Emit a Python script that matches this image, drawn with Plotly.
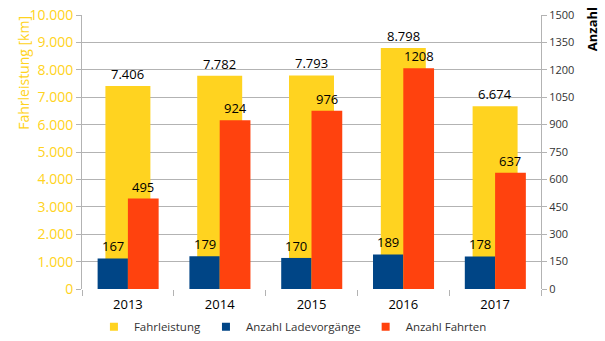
import plotly.graph_objects as go

years = ["2013", "2014", "2015", "2016", "2017"]
fahrleistung = [7406, 7782, 7793, 8798, 6674]
ladevorgaenge = [167, 179, 170, 189, 178]
fahrten = [495, 924, 976, 1208, 637]

YELLOW = "#FFD320"
BLUE = "#004586"
RED = "#FF420E"
GRID = "#b3b3b3"
FONT = "Open Sans"

xs = list(range(len(years)))

fig = go.Figure()
fig.add_trace(go.Bar(x=xs, y=fahrleistung, width=0.49, offset=-0.245,
                     marker=dict(color=YELLOW, line=dict(width=0)),
                     yaxis="y", showlegend=False, hoverinfo="skip"))
fig.add_trace(go.Bar(x=xs, y=ladevorgaenge, width=0.33, offset=-0.33,
                     marker=dict(color=BLUE, line=dict(width=0)),
                     yaxis="y2", showlegend=False, hoverinfo="skip"))
fig.add_trace(go.Bar(x=xs, y=fahrten, width=0.335, offset=0.0,
                     marker=dict(color=RED, line=dict(width=0)),
                     yaxis="y2", showlegend=False, hoverinfo="skip"))

# legend entries
for name, col in [("Fahrleistung", YELLOW), ("Anzahl Ladevorgänge", BLUE), ("Anzahl Fahrten", RED)]:
    fig.add_trace(go.Scatter(x=[None], y=[None], mode="markers", name=name,
                             marker=dict(symbol="square", size=8, color=col)))

def fmt_de(v):
    return f"{v:,}".replace(",", ".")

LABEL_FONT = dict(family=FONT, size=13, color="#000")
ann = []
for i, v in enumerate(fahrleistung):
    ann.append(dict(x=xs[i], y=v, xref="x", yref="y", text=fmt_de(v), showarrow=False,
                    yanchor="bottom", yshift=1, font=LABEL_FONT))
for i, v in enumerate(ladevorgaenge):
    ann.append(dict(x=xs[i] - 0.165, y=v, xref="x", yref="y2", text=str(v), showarrow=False,
                    yanchor="bottom", yshift=1, font=LABEL_FONT))
for i, v in enumerate(fahrten):
    ann.append(dict(x=xs[i] + 0.1675, y=v, xref="x", yref="y2", text=str(v), showarrow=False,
                    yanchor="bottom", yshift=1, font=LABEL_FONT))

ann.append(dict(text="Fahrleistung [km]", xref="paper", yref="paper", x=-0.128, y=0.79,
                xanchor="center", yanchor="middle", textangle=-90, showarrow=False,
                font=dict(family=FONT, size=14, color=YELLOW)))
ann.append(dict(text="<b>Anzahl</b>", xref="paper", yref="paper", x=1.11, y=0.95,
                xanchor="center", yanchor="middle", textangle=-90, showarrow=False,
                font=dict(family=FONT, size=13, color="#000")))

fig.update_layout(
    width=605, height=341,
    margin=dict(l=82, r=63.5, t=14.5, b=52, autoexpand=False),
    paper_bgcolor="white", plot_bgcolor="white",
    barmode="overlay",
    separators=",.",
    showlegend=True,
    legend=dict(orientation="h", x=0.026, xanchor="left", y=-0.138, yanchor="middle",
                font=dict(family=FONT, size=11.5, color="#333"),
                bgcolor="rgba(0,0,0,0)"),
    annotations=ann,
    xaxis=dict(range=[-0.5, 4.5], tickmode="array", tickvals=xs, ticktext=years,
               ticks="outside", ticklen=3, tickcolor="rgba(0,0,0,0)",
               showgrid=False, zeroline=False, showline=False,
               tickfont=dict(family=FONT, size=13, color="#000"),
               minor=dict(tickmode="array", tickvals=[-0.5, 0.5, 1.5, 2.5, 3.5, 4.5],
                          ticks="outside", ticklen=6, tickcolor=GRID, tickwidth=1, showgrid=False)),
    yaxis=dict(range=[0, 10000], dtick=1000, tickformat=",d",
               showgrid=True, gridcolor=GRID, gridwidth=1,
               zeroline=False, showline=True, linecolor=GRID, linewidth=1,
               ticks="outside", ticklen=5, tickcolor=GRID,
               tickfont=dict(family=FONT, size=14, color=YELLOW)),
    yaxis2=dict(range=[0, 1500], dtick=150, overlaying="y", side="right",
                showgrid=False, zeroline=False, showline=True, linecolor=GRID, linewidth=1,
                ticks="outside", ticklen=5, tickcolor=GRID,
                tickfont=dict(family=FONT, size=11, color="#333")),
)

fig.write_html("out.html")
